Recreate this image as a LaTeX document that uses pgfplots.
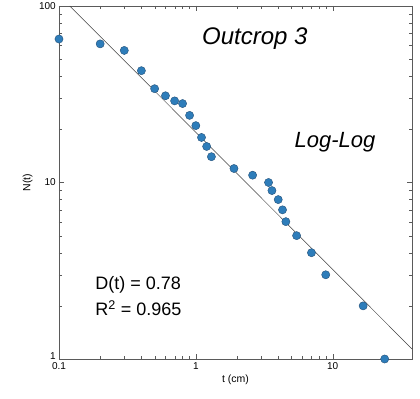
\documentclass[border=0pt]{standalone}
\usepackage{pgfplots}
\pgfplotsset{compat=1.18}
\usepackage{fontspec}
\setmainfont{Liberation Sans}
\definecolor{pt}{RGB}{46,125,186}
\definecolor{ptd}{RGB}{35,80,120}
\definecolor{ax}{RGB}{90,90,90}
\begin{document}
\begin{tikzpicture}
\begin{axis}[
  xmode=log, ymode=log,
  scale only axis, width=353pt, height=353pt,
  xmin=0.1, xmax=38, ymin=1, ymax=100,
  xtick={0.1,1,10}, xticklabels={0.1,1,10},
  ytick={1,10,100}, yticklabels={\raisebox{6pt}{1},10,100},
  tick align=inside, major tick length=5pt, minor tick length=3pt,
  tick label style={font=\fontsize{10}{12}\selectfont, inner sep=1pt},
  xticklabel style={yshift=-2pt},
  yticklabel style={xshift=-2pt},
  xlabel={t (cm)}, ylabel={N(t)},
  xlabel style={font=\fontsize{10.5}{12}\selectfont, yshift=-1pt},
  ylabel style={font=\fontsize{10.5}{12}\selectfont, yshift=2pt},
  axis line style={ax, line width=0.6pt},
  tick style={ax},
  clip=false,
  /pgf/number format/assume math mode=true,
]
\addplot[black!75, line width=0.5pt] coordinates {(0.12,100) (38,1.14)};
\addplot[only marks, mark=*, mark size=4.1pt, mark options={fill=pt, draw=ptd, line width=0.4pt}] coordinates {
(0.1,65) (0.2,61) (0.3,56) (0.4,43) (0.5,34) (0.6,31) (0.7,29) (0.8,28)
(0.9,24) (1.0,21) (1.1,18) (1.2,16) (1.3,14) (1.9,12) (2.6,11) (3.4,10)
(3.6,9) (4.0,8) (4.3,7) (4.55,6) (5.45,5) (7,4) (8.9,3) (16.7,2) (24,1)
};
\node[font=\itshape\fontsize{24}{28}\selectfont] at (rel axis cs:0.555,0.909) {Outcrop 3};
\node[font=\itshape\fontsize{22}{26}\selectfont] at (rel axis cs:0.782,0.615) {Log-Log};
\node[anchor=west, font=\fontsize{18}{22}\selectfont] at (rel axis cs:0.093,0.21) {D(t) = 0.78};
\node[anchor=west, font=\fontsize{18}{22}\selectfont] at (rel axis cs:0.093,0.144) {R\textsuperscript{2} = 0.965};
\path (rel axis cs:{-59/353},{-40/353}) rectangle (rel axis cs:{1+8/353},{1+6/353});
\end{axis}
\end{tikzpicture}
\end{document}
